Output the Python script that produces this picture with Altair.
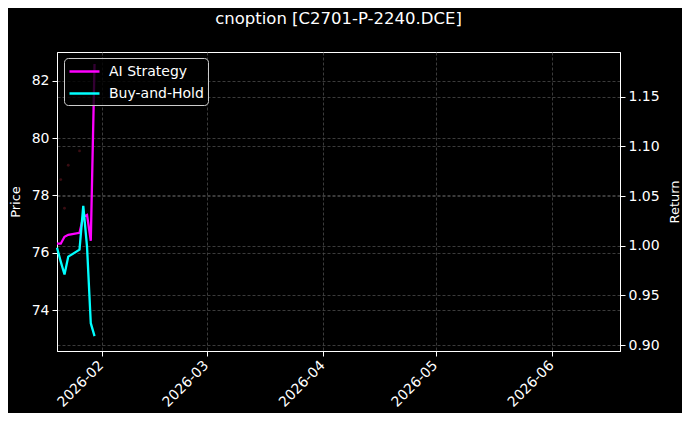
import altair as alt
import pandas as pd

# ---- data ----
dates = ["2026-01-20", "2026-01-21", "2026-01-22", "2026-01-23", "2026-01-26",
         "2026-01-27", "2026-01-28", "2026-01-29", "2026-01-30"]
ai_return = [1.002, 1.002, 1.009, 1.011, 1.013, 1.029, 1.031, 1.005, 1.183]
bh_return = [0.998, 0.984, 0.971, 0.989, 0.996, 1.040, 0.999, 0.922, 0.909]

price_dates = ["2026-01-21", "2026-01-22", "2026-01-23", "2026-01-26"]
price_values = [78.55, 77.55, 79.05, 79.55]

series_names = ["AI Strategy", "Buy-and-Hold"]
series_colors = ["#ff00ff", "#00ffff"]

price_ticks = [74, 76, 78, 80, 82]
return_ticks = [0.90, 0.95, 1.00, 1.05, 1.10, 1.15]
month_ticks = [(2026, 2), (2026, 3), (2026, 4), (2026, 5), (2026, 6)]

# ---- tables ----
ret_rows = []
for d, v in zip(dates, ai_return):
    ret_rows.append({"date": d + "T00:00:00", "series": series_names[0], "value": v})
for d, v in zip(dates, bh_return):
    ret_rows.append({"date": d + "T00:00:00", "series": series_names[1], "value": v})
ret_df = pd.DataFrame(ret_rows)
price_df = pd.DataFrame({"date": [d + "T00:00:00" for d in price_dates], "price": price_values})

FONT = "DejaVu Sans"

x_enc = alt.X(
    "date:T",
    scale=alt.Scale(domain=[alt.DateTime(year=2026, month=1, date=20),
                            alt.DateTime(year=2026, month=6, date=19)], nice=False),
    axis=alt.Axis(
        values=[alt.DateTime(year=y, month=m, date=1) for y, m in month_ticks],
        format="%Y-%m", labelAngle=-45, labelAlign="right", labelBaseline="top",
        labelOffset=-6, labelPadding=2, labelFontSize=14,
        title=None, grid=True,
    ),
)

price_layer = alt.Chart(price_df).mark_circle(size=8, color="#3a0d12", opacity=1).encode(
    x=x_enc,
    y=alt.Y("price:Q",
            scale=alt.Scale(domain=[72.57, 83.0], nice=False, zero=False),
            axis=alt.Axis(orient="left", title="Price", values=price_ticks, grid=True,
                          titlePadding=9)),
)

return_layer = alt.Chart(ret_df).mark_line(strokeWidth=2.3).encode(
    x=x_enc,
    y=alt.Y("value:Q",
            scale=alt.Scale(domain=[0.894, 1.195], nice=False, zero=False),
            axis=alt.Axis(orient="right", title="Return", values=return_ticks,
                          format=".2f", grid=True, titleAngle=270, titlePadding=22,
                          titleBaseline="bottom")),
    color=alt.Color("series:N",
                    scale=alt.Scale(domain=series_names, range=series_colors),
                    legend=alt.Legend(
                        title=None, orient="none", legendX=7, legendY=6,
                        symbolType="M-1,0L2.75,0", symbolSize=256, symbolStrokeWidth=2.5,
                        labelFontSize=14, labelFont=FONT, labelColor="white",
                        fillColor="rgba(0,0,0,0.8)", strokeColor="#cccccc",
                        cornerRadius=4, padding=4, rowPadding=5, labelOffset=22,
                    )),
)

chart = alt.layer(price_layer, return_layer).resolve_scale(y="independent").properties(
    width=563, height=299,
    title=alt.TitleParams("cnoption [C2701-P-2240.DCE]", fontSize=16.5, font=FONT,
                          color="white", fontWeight="normal", anchor="middle", offset=25),
    autosize=alt.AutoSizeParams(type="none"),
    padding={"left": 49, "top": 44, "right": 62, "bottom": 62},
).configure(background="black").configure_view(
    stroke="white", strokeWidth=1
).configure_axis(
    labelColor="white", titleColor="white", domainColor="white", tickColor="white",
    labelFont=FONT, titleFont=FONT, labelFontSize=14, titleFontSize=13,
    titleFontWeight="normal", tickSize=5, labelPadding=3,
    gridColor="#4a4a4a", gridDash=[3, 2], gridWidth=0.8,
)

chart.save("out.html", embed_options={"renderer": "svg", "actions": False})
